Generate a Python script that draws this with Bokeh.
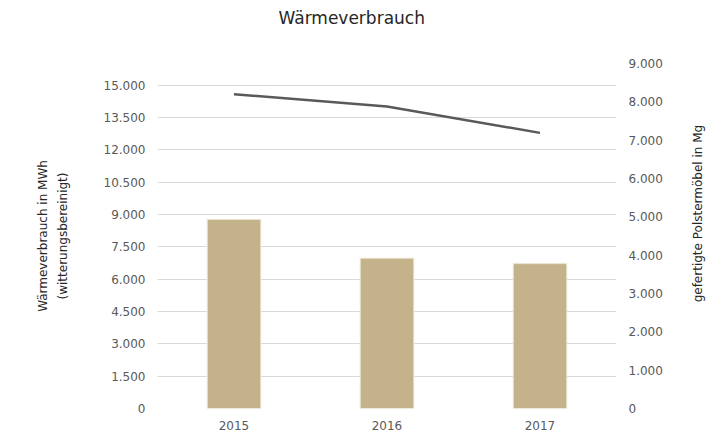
import math
from bokeh.plotting import figure
from bokeh.layouts import row
from bokeh.models import (FactorRange, Range1d, LinearAxis, FixedTicker,
                          CustomJSTickFormatter, ColumnDataSource, Title, Label)
from bokeh.embed import file_html
from bokeh.resources import INLINE

years = ["2015", "2016", "2017"]
waerme = [8770, 6970, 6720]          # Wärmeverbrauch in MWh (bars, left axis)
polster = [8200, 7880, 7190]         # gefertigte Polstermöbel in Mg (line, right axis)
left_ticks = [0, 1500, 3000, 4500, 6000, 7500, 9000, 10500, 12000, 13500, 15000]
right_ticks = [0, 1000, 2000, 3000, 4000, 5000, 6000, 7000, 8000, 9000]

title_text = "Wärmeverbrauch"
left_title = "Wärmeverbrauch in MWh\n(witterungsbereinigt)"
right_title = "gefertigte Polstermöbel in Mg"

FONT = "DejaVu Sans"
TXT = "#595959"
DARK = "#262626"

src = ColumnDataSource(dict(year=years, waerme=waerme, polster=polster))

p = figure(width=680, height=432, output_backend="svg", toolbar_location=None,
           x_range=FactorRange(*years, range_padding=0),
           y_range=Range1d(0, 16000),
           min_border_left=157, min_border_right=64, min_border_top=63,
           min_border_bottom=22)
p.extra_y_ranges = {"right": Range1d(0, 9000)}
p.outline_line_color = None
p.background_fill_color = "white"
p.border_fill_color = "white"

# default title unused; a spacer title next to the frame, the real title above it
p.title.text = ""
p.title.standoff = 0
p.title.text_font_size = "1px"
p.add_layout(Title(text="\u00a0", text_font_size="10px", standoff=18), "above")
p.add_layout(Title(text=title_text, align="left", offset=121, standoff=10,
                   text_font=FONT, text_font_size="17px", text_font_style="normal",
                   text_color=DARK), "above")

fmt = CustomJSTickFormatter(code="return tick.toFixed(0).replace(/\\B(?=(\\d{3})+(?!\\d))/g, '.');")

def style_axis(ax):
    ax.axis_line_color = None
    ax.major_tick_line_color = None
    ax.minor_tick_line_color = None
    ax.major_label_text_font = FONT
    ax.major_label_text_font_size = "12px"
    ax.major_label_text_color = TXT
    ax.axis_label_text_font = FONT
    ax.axis_label_text_font_size = "12px"
    ax.axis_label_text_font_style = "normal"
    ax.axis_label_text_color = DARK

# left axis
ya = p.yaxis[0]
ya.ticker = FixedTicker(ticks=left_ticks)
ya.formatter = fmt
style_axis(ya)
ya.major_label_standoff = 6
ya.axis_label = left_title
ya.axis_label_standoff = 31
ya.axis_label_text_line_height = 1.4

# right axis
ra = LinearAxis(y_range_name="right", ticker=FixedTicker(ticks=right_ticks), formatter=fmt)
style_axis(ra)
ra.major_label_standoff = 6
p.add_layout(ra, "right")

# x axis
xa = p.xaxis[0]
style_axis(xa)
xa.major_label_standoff = 6

p.xgrid.grid_line_color = None
p.ygrid.ticker = FixedTicker(ticks=left_ticks)
p.ygrid.grid_line_color = "#d9d9d9"
p.ygrid.grid_line_width = 1

p.vbar(x="year", top="waerme", width=0.35, source=src,
       fill_color="#c4b38a", line_color="#ece5d2", line_width=1)
p.line(x="year", y="polster", source=src, y_range_name="right",
       line_color="#595959", line_width=2.5)

# narrow strip on the right holding the right axis title (reads bottom to top)
p2 = figure(width=46, height=432, output_backend="svg", toolbar_location=None,
            x_range=Range1d(0, 1), y_range=Range1d(0, 1),
            x_axis_type=None, y_axis_type=None, min_border=0)
p2.outline_line_color = None
p2.border_fill_color = "white"
p2.add_layout(Label(x=0.37, y=0.565, text=right_title, angle=math.pi / 2,
                    text_align="center", text_baseline="middle", text_font=FONT,
                    text_font_size="12px", text_color=DARK))

layout = row(p, p2, spacing=0)
open("out.html", "w").write(file_html(layout, INLINE))
